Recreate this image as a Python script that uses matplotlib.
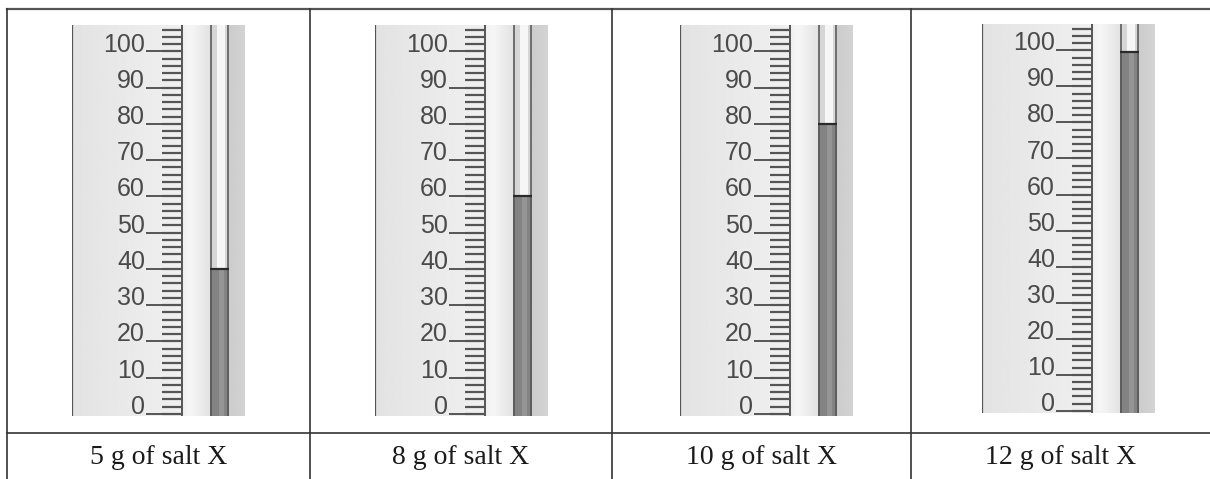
import numpy as np
import matplotlib.pyplot as plt
from matplotlib.lines import Line2D

# data
labels = ['5 g of salt X', '8 g of salt X', '10 g of salt X', '12 g of salt X']
levels = [40, 60, 80, 99.5]
major_ticks = list(range(0, 101, 10))
minor_ticks = list(range(0, 107, 2))

# layout (pixels of the 1210x479 image)
W, H = 1210, 479
panel_left = [72, 375, 680, 982]
panel_top = [25, 25, 25, 24]
panel_bottom = [416, 416, 416, 413]
panel_w = 173
col_edges = [7, 310, 612, 911, 1210]
table_top, table_mid = 9, 433

fig = plt.figure(figsize=(W / 100, H / 100), dpi=100)


def px_line(x0, y0, x1, y1, **kw):
    fig.add_artist(Line2D([x0 / W, x1 / W], [1 - y0 / H, 1 - y1 / H], **kw))


def hgrad(ax, x0, x1, y0, y1, stops, vals):
    xs = np.linspace(0, 1, 64)
    g = np.interp(xs, stops, vals)
    img = np.repeat(g[None, :], 2, axis=0)
    ax.imshow(img, extent=(x0, x1, y0, y1), aspect='auto', cmap='gray',
              vmin=0, vmax=1, interpolation='bilinear', zorder=0)


# table grid
px_line(col_edges[0], table_top, W, table_top, color='#555555', lw=1.6)
px_line(col_edges[0], table_mid, W, table_mid, color='#333333', lw=1.2)
for x in col_edges[:-1]:
    px_line(x, table_top, x, H, color='#333333', lw=1.2)

# row of captions
for i, lab in enumerate(labels):
    cx = (col_edges[i] + col_edges[i + 1]) / 2
    fig.text(cx / W, 1 - 457 / H, lab, ha='center', va='center',
             family='Liberation Serif', fontsize=20, color='#1a1a1a')

ylo, yhi = -0.6, 107.3
for i, lev in enumerate(levels):
    l, t, b = panel_left[i], panel_top[i], panel_bottom[i]
    ax = fig.add_axes([l / W, 1 - b / H, panel_w / W, (b - t) / H])
    ax.set_xlim(0, panel_w)
    ax.set_ylim(ylo, yhi)
    ax.axis('off')

    # backgrounds
    hgrad(ax, 0, 110, ylo, yhi, [0, 1], [0.89, 0.94])
    hgrad(ax, 110, 138, ylo, yhi, [0, 0.3, 1], [0.94, 0.965, 0.89])
    hgrad(ax, 157, panel_w, ylo, yhi, [0, 1], [0.80, 0.83])

    # tube: empty part and liquid
    tc, tw = 147.5, 19
    ax.bar(tc, yhi - lev, bottom=lev, width=tw, color='#707070', zorder=2)
    ax.bar(tc, yhi - lev, bottom=lev, width=tw - 4, color='#d6d6d6', zorder=2)
    ax.bar(tc + 1, yhi - lev, bottom=lev, width=8, color='#f6f6f6', zorder=2)
    ax.bar(tc, lev - ylo, bottom=ylo, width=tw, color='#5e5e5e', zorder=2)
    ax.bar(tc, lev - ylo, bottom=ylo, width=tw - 4, color='#838383', zorder=2)
    ax.bar(tc + 1.5, lev - ylo, bottom=ylo, width=5, color='#959595', zorder=2)
    ax.hlines(lev, tc - tw / 2, tc + tw / 2, color='#2a2a2a', lw=1.6, zorder=3)

    # scale
    ax.axvline(0, color='#555555', lw=1.6, zorder=3)
    ax.axvline(110, color='#555555', lw=1.4, zorder=3)
    ax.hlines(minor_ticks, 90, 110, color='#555555', lw=1.6, zorder=3)
    ax.hlines(major_ticks, 74, 110, color='#555555', lw=1.4, zorder=3)
    for v in major_ticks:
        ax.text(73, v - 1.4, str(v), ha='right', va='bottom', fontsize=18,
                family=['Liberation Sans Narrow', 'Liberation Sans'],
                color='#4a4a4a', zorder=3, clip_on=True)

fig.savefig('out.png', dpi=100)
